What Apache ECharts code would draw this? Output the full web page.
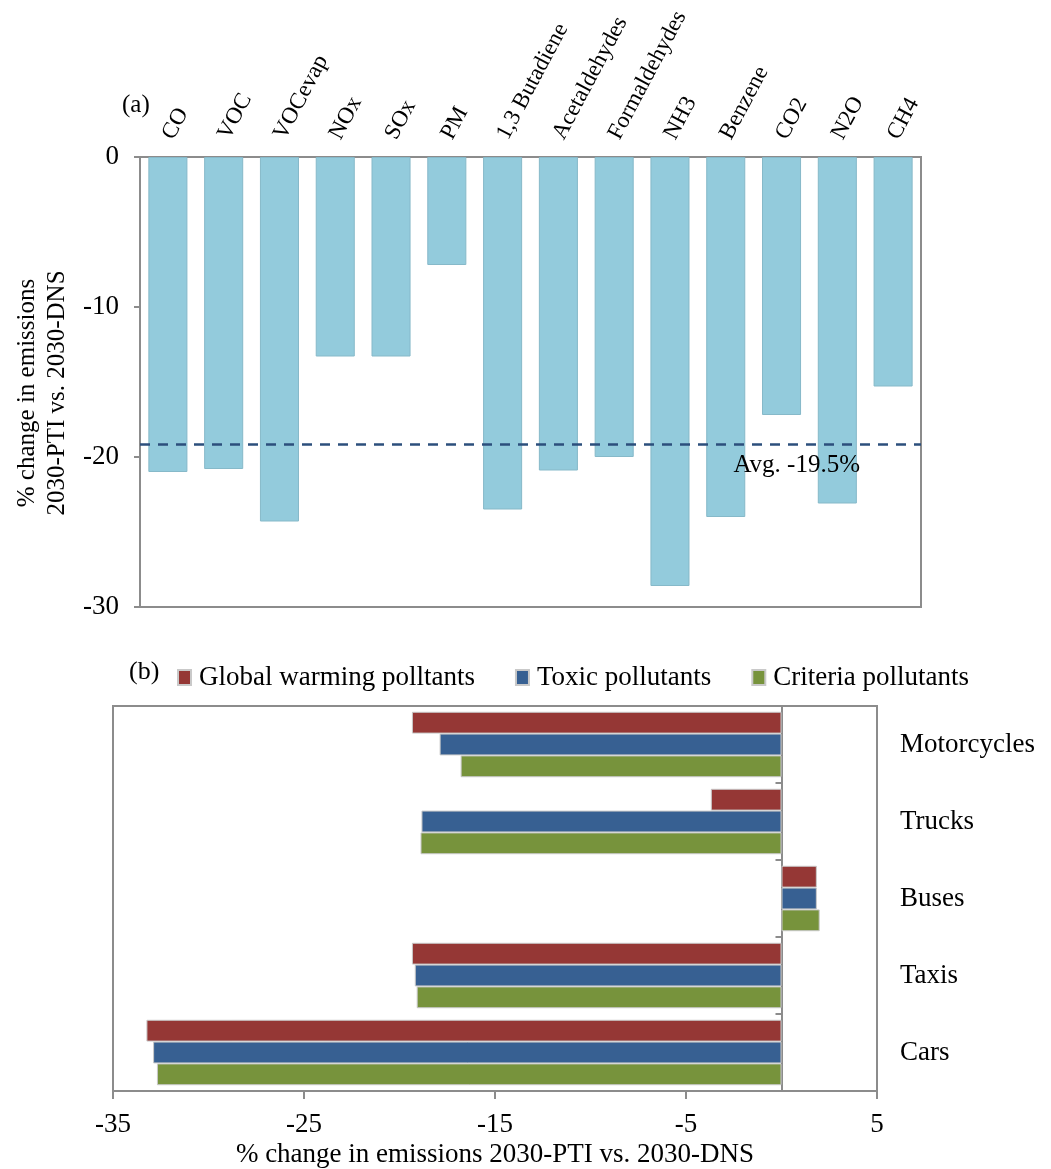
<!DOCTYPE html>
<html>
<head>
<meta charset="utf-8">
<script src="https://cdn.jsdelivr.net/npm/echarts@6/dist/echarts.min.js"></script>
<style>
  html, body { margin: 0; padding: 0; background: #fff; }
  #chart { width: 1051px; height: 1169px; }
</style>
</head>
<body>
<div id="chart"></div>
<script>
// panel (a): % change by pollutant
var pollutants = ['CO', 'VOC', 'VOCevap', 'NOx', 'SOx', 'PM', '1,3 Butadiene', 'Acetaldehydes',
  'Formaldehydes', 'NH3', 'Benzene', 'CO2', 'N2O', 'CH4'];
var pollutantChange = [-21.0, -20.8, -24.3, -13.3, -13.3, -7.2, -23.5, -20.9, -20.0, -28.6, -24.0, -17.2, -23.1, -15.3];
var avgChange = -19.15;
var avgLabel = 'Avg. -19.5%';

// panel (b): % change by vehicle type
var vehicles = ['Motorcycles', 'Trucks', 'Buses', 'Taxis', 'Cars'];
var globalWarming = [-19.35, -3.7, 1.85, -19.35, -33.25];
var toxic = [-17.9, -18.85, 1.85, -19.2, -32.9];
var criteria = [-16.8, -18.9, 2.0, -19.1, -32.7];
var xTicksB = [-35, -25, -15, -5, 5];

(function() {
  var font = 'Liberation Serif';
  var ink = '#000';
  var rule = '#8c8c8c';
  var lightBlue = '#93cbdc';
  var red = '#953735';
  var blue = '#376092';
  var green = '#77933c';

  var chart = echarts.init(document.getElementById('chart'), null, { renderer: 'canvas' });
  chart.setOption({
    animation: false,
    textStyle: { fontFamily: font, color: ink },
    grid: [
      { left: 140, top: 157, width: 781, height: 450, show: true, borderColor: rule, borderWidth: 2 },
      { left: 113, top: 706, width: 764, height: 385, show: true, borderColor: rule, borderWidth: 2 }
    ],
    graphic: [
      { type: 'text', left: 122, top: 93, style: { text: '(a)', font: '25px "Liberation Serif"', fill: ink } },
      { type: 'text', left: 129, top: 659, style: { text: '(b)', font: '26px "Liberation Serif"', fill: ink } }
    ],
    legend: {
      data: ['Global warming polltants', 'Toxic pollutants', 'Criteria pollutants'],
      left: 172,
      top: 659,
      icon: 'rect',
      itemWidth: 13,
      itemHeight: 15,
      itemGap: 40,
      textStyle: { fontFamily: font, fontSize: 27, color: ink, padding: [0, 0, 0, 3] }
    },
    xAxis: [
      {
        type: 'category',
        gridIndex: 0,
        position: 'top',
        data: pollutants,
        axisLine: { lineStyle: { color: rule, width: 2 } },
        axisTick: { inside: true, length: 6, lineStyle: { color: rule, width: 2 } },
        axisLabel: { rotate: 62, margin: 19, fontFamily: font, fontSize: 23, color: ink }
      },
      {
        type: 'value',
        gridIndex: 1,
        min: -35,
        max: 5,
        interval: 10,
        name: '% change in emissions 2030-PTI vs. 2030-DNS',
        nameLocation: 'middle',
        nameGap: 50,
        nameTextStyle: { fontFamily: font, fontSize: 27, color: ink },
        axisLine: { onZero: false, lineStyle: { color: rule, width: 2 } },
        axisTick: { show: true, length: 8, customValues: xTicksB, lineStyle: { color: rule, width: 2 } },
        axisLabel: { margin: 20, customValues: xTicksB, fontFamily: font, fontSize: 27, color: ink },
        splitLine: { show: false }
      }
    ],
    yAxis: [
      {
        type: 'value',
        gridIndex: 0,
        min: -30,
        max: 0,
        interval: 10,
        name: '% change in emissions\n2030-PTI vs. 2030-DNS',
        nameLocation: 'middle',
        nameGap: 59,
        nameTextStyle: { fontFamily: font, fontSize: 25, lineHeight: 30, color: ink, padding: [0, 22, 0, 0] },
        axisLine: { show: true, lineStyle: { color: rule, width: 2 } },
        axisTick: { show: true, length: 6, lineStyle: { color: rule, width: 2 } },
        axisLabel: { margin: 21, fontFamily: font, fontSize: 27, color: ink },
        splitLine: { show: false }
      },
      {
        type: 'category',
        gridIndex: 1,
        position: 'right',
        inverse: true,
        data: vehicles,
        axisLine: { show: false, onZero: false },
        axisTick: { show: false },
        axisLabel: { margin: 23, fontFamily: font, fontSize: 27, color: ink }
      },
      {
        type: 'category',
        gridIndex: 1,
        position: 'left',
        inverse: true,
        data: vehicles,
        axisLine: { show: true, onZero: true, lineStyle: { color: rule, width: 2 } },
        axisTick: { show: true, length: 6, lineStyle: { color: rule, width: 2 } },
        axisLabel: { show: false }
      }
    ],
    series: [
      {
        name: 'change',
        type: 'bar',
        xAxisIndex: 0,
        yAxisIndex: 0,
        barCategoryGap: '30%',
        itemStyle: { color: lightBlue, borderColor: '#86b9c9', borderWidth: 1 },
        data: pollutantChange,
        markLine: {
          symbol: 'none',
          silent: true,
          lineStyle: { color: '#2c4f7c', width: 2.5, type: [10, 8] },
          label: {
            position: 'insideEndBottom',
            formatter: avgLabel,
            fontFamily: font,
            fontSize: 25,
            color: ink,
            padding: [4, 56, 0, 0]
          },
          data: [{ yAxis: avgChange }]
        }
      },
      {
        name: 'Global warming polltants',
        type: 'bar',
        xAxisIndex: 1,
        yAxisIndex: 1,
        barGap: '0%',
        barCategoryGap: '15%',
        itemStyle: { color: red, borderColor: '#c9c9c9', borderWidth: 1 },
        data: globalWarming
      },
      {
        name: 'Toxic pollutants',
        type: 'bar',
        xAxisIndex: 1,
        yAxisIndex: 1,
        barGap: '0%',
        barCategoryGap: '15%',
        itemStyle: { color: blue, borderColor: '#c9c9c9', borderWidth: 1 },
        data: toxic
      },
      {
        name: 'Criteria pollutants',
        type: 'bar',
        xAxisIndex: 1,
        yAxisIndex: 1,
        barGap: '0%',
        barCategoryGap: '15%',
        itemStyle: { color: green, borderColor: '#c9c9c9', borderWidth: 1 },
        data: criteria
      }
    ]
  });

  window.addEventListener('resize', function() {
    chart.resize();
  });
})();
</script>
</body>
</html>
